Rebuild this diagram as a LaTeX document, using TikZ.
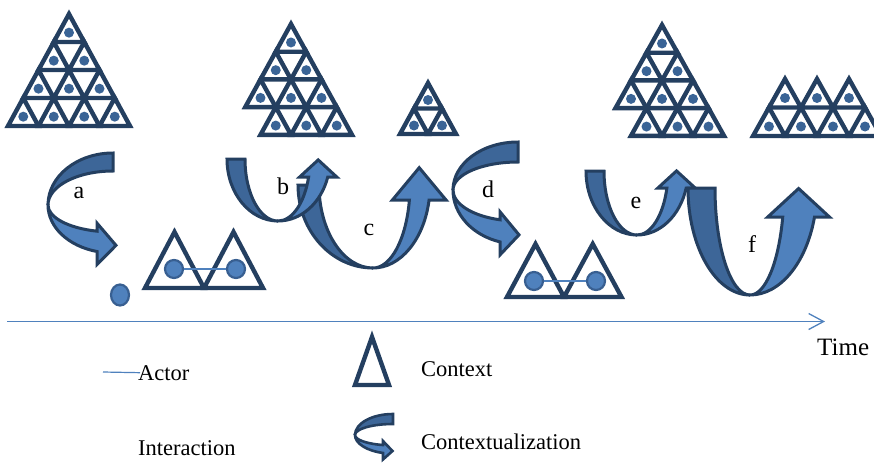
\documentclass[tikz,border=0pt]{standalone}
\usepackage{fontspec}
\setmainfont{Liberation Serif}
\usetikzlibrary{arrows.meta,shapes.geometric}

\definecolor{navy}{HTML}{243F60}
\definecolor{backblue}{HTML}{3D6698}
\definecolor{frontblue}{HTML}{4F81BD}
\definecolor{dotblue}{HTML}{3A6496}
\definecolor{ringblue}{HTML}{385F91}
\definecolor{lineblue}{HTML}{4F81BD}

\tikzset{
  cellline/.style={draw=navy, line width=4.4pt, line join=miter},
  celldot/.style={fill=dotblue},
  ribbon back/.style={fill=backblue, draw=navy, line width=3pt, line join=miter, miter limit=4},
  ribbon front/.style={fill=frontblue, draw=navy, line width=3pt, line join=miter, miter limit=4},
  actordot/.style={circle, fill=frontblue, draw=ringblue, line width=2.2pt, minimum size=18pt, inner sep=0pt},
  lonedot/.style={ellipse, fill=frontblue, draw=ringblue, line width=2.2pt, minimum width=18pt, minimum height=21pt, inner sep=0pt},
  interaction/.style={draw=lineblue, line width=1.2pt},
  timeaxis/.style={draw=lineblue, line width=1.3pt, -{Straight Barb[length=15pt,width=16pt]}},
  stagelabel/.style={font=\fontsize{24}{28}\selectfont, inner sep=0pt, text=black},
  timelabel/.style={font=\fontsize{25}{29}\selectfont, inner sep=0pt, text=black},
  legendtext/.style={font=\fontsize{22.5}{27}\selectfont, inner sep=0pt, text=black},
}

% one context: upward triangle with base-left corner (#1,#2), side #3, height #4,
% and its actor dot at the centroid
\newcommand\contextcell[4]{%
  \path[cellline] ({#1},{#2}) -- ++({#3},0) -- ++({-#3/2},{-#4}) -- cycle;
  \fill[celldot] ({#1+#3/2},{#2-#4/3}) circle[radius=5];
}

% U-shaped contextualization arrow
% #1,#2 centre (tail level), #3 depth, #4/#5 outer/inner half-width of the back band,
% #6/#7 outer/inner half-width of the front band, #8 level of the head base, #9 head overhang
\newcommand\uturnarrow[9]{%
  \pgfmathsetmacro\arrHeadAng{asin((#8-#2)/#3)}%
  \pgfmathsetmacro\arrOut{#1+#6*cos(\arrHeadAng)}%
  \pgfmathsetmacro\arrIn{#1+#7*cos(\arrHeadAng)}%
  \path[ribbon back] ({#1-#4},{#2}) arc[start angle=180, end angle=90, x radius=#4, y radius=#3]
    arc[start angle=90, end angle=180, x radius=#5, y radius=#3] -- cycle;
  \path[ribbon front] ({#1},{#2+#3}) arc[start angle=90, end angle=\arrHeadAng, x radius=#6, y radius=#3]
    -- ({\arrOut+#9},{#8}) -- ({(\arrOut+\arrIn)/2},{#8-1.9*#9}) -- ({\arrIn-#9},{#8}) -- ({\arrIn},{#8})
    arc[start angle=\arrHeadAng, end angle=90, x radius=#7, y radius=#3] -- cycle;
}

% C-shaped contextualization arrow (bulging left, head pointing right)
% #1,#2 centre, #3 depth, #4/#5 outer/inner half-height of the back band,
% #6/#7 outer/inner half-height of the front band, #8 x of the head base, #9 head overhang
\newcommand\cturnarrow[9]{%
  \pgfmathsetmacro\arrHeadAng{acos((#8-#1)/#3)}%
  \pgfmathsetmacro\arrOut{#2+#6*sin(\arrHeadAng)}%
  \pgfmathsetmacro\arrIn{#2+#7*sin(\arrHeadAng)}%
  \path[ribbon back] ({#1},{#2-#4}) arc[start angle=270, end angle=180, x radius=#3, y radius=#4]
    arc[start angle=180, end angle=270, x radius=#3, y radius=#5] -- cycle;
  \path[ribbon front] ({#1-#3},{#2}) arc[start angle=180, end angle=\arrHeadAng, x radius=#3, y radius=#6]
    -- ({#8},{\arrOut+1.3*#9}) -- ({#8+1.9*#9},{(\arrOut+\arrIn)/2+0.4*#9})
    -- ({#8},{\arrIn-0.8*#9}) -- ({#8},{\arrIn})
    arc[start angle=\arrHeadAng, end angle=180, x radius=#3, y radius=#7] -- cycle;
}

\begin{document}
\begin{tikzpicture}[x=1pt, y=-1pt]
\useasboundingbox (0,0) rectangle (874,464);

% ---- large contexts along the top ----
% full four-row context
\foreach \r in {1,...,4}{
  \foreach \k in {1,...,\r}{
    \contextcell{69-\r*15.25+(\k-1)*30.5}{14+\r*28}{30.5}{28}
  }
}
% four rows, lower-left cell missing
\foreach \r/\kfrom in {1/1,2/1,3/1,4/2}{
  \foreach \k in {\kfrom,...,\r}{
    \contextcell{291-\r*15.25+(\k-1)*30.5}{24+\r*27.7}{30.5}{27.7}
  }
}
% small two-row context
\foreach \r in {1,2}{
  \foreach \k in {1,...,\r}{
    \contextcell{428-\r*14+(\k-1)*28}{83+\r*25.5}{28}{25.5}
  }
}
% four rows, lower-left cell missing
\foreach \r/\kfrom in {1/1,2/1,3/1,4/2}{
  \foreach \k in {\kfrom,...,\r}{
    \contextcell{662-\r*15.5+(\k-1)*31}{25+\r*27.7}{31}{27.7}
  }
}
% two bottom rows only
\foreach \r in {3,4}{
  \foreach \k in {1,...,\r}{
    \contextcell{817-\r*16+(\k-1)*32}{22+\r*28.5}{32}{28.5}
  }
}

% ---- interacting pairs ----
\path[cellline] (145,288) -- (204,288) -- (174.5,232) -- cycle;
\path[cellline] (204,288) -- (263,288) -- (233.5,232) -- cycle;
\path[cellline] (507,297) -- (564,297) -- (535.5,244) -- cycle;
\path[cellline] (564,297) -- (621.5,297) -- (592.75,244) -- cycle;

\node[actordot] (p1a) at (174,269) {};
\node[actordot] (p1b) at (236,269) {};
\node[actordot] (p2a) at (534,281) {};
\node[actordot] (p2b) at (596,281) {};
\node[lonedot] (lone) at (120,295) {};
\draw[interaction] (p1a) -- (p1b);
\draw[interaction] (p2a) -- (p2b);

% ---- contextualization arrows ----
\uturnarrow{373}{185}{83}{75}{54}{57}{37}{200}{17}
\uturnarrow{278}{159}{62}{51}{33}{52}{32}{177}{9}
\cturnarrow{113}{205}{65}{52}{34}{48}{27}{97}{10}
\cturnarrow{518}{190}{65}{48}{28}{54}{31}{500}{10}
\uturnarrow{637}{171}{64}{51}{33}{51}{31}{188}{9}
\uturnarrow{750}{188}{107}{62}{35}{67}{34}{217}{15}

\node[stagelabel] (la) at (79,193) {a};
\node[stagelabel] (lb) at (283,186) {b};
\node[stagelabel] (lc) at (369,230) {c};
\node[stagelabel] (ld) at (488,189) {d};
\node[stagelabel] (le) at (636,203) {e};
\node[stagelabel] (lf) at (752,244) {f};

% ---- time axis ----
\coordinate (t0) at (7,321.5);
\coordinate (t1) at (825,321.5);
\draw[timeaxis] (t0) -- (t1);
\node[timelabel, anchor=base west] (time) at (817,355) {Time};

% ---- legend ----
\node[legendtext, anchor=base west] (actor) at (138,380) {Actor};
\coordinate (actorline) at (103,372);
\draw[interaction] (actorline) -- ([xshift=2pt]actor.west);
\node[legendtext, anchor=base west] (interactionlbl) at (138,455) {Interaction};

\path[cellline] (355,385) -- (389,385) -- (372,337) -- cycle;
\node[legendtext, anchor=base west] (context) at (421,376) {Context};

\begin{scope}[ribbon back/.append style={line width=2.6pt},
              ribbon front/.append style={line width=2.6pt}]
  \cturnarrow{393}{435}{38}{21}{11}{18.6}{10.4}{383}{5}
\end{scope}
\node[legendtext, anchor=base west] (contextualization) at (421,449) {Contextualization};

\end{tikzpicture}
\end{document}
